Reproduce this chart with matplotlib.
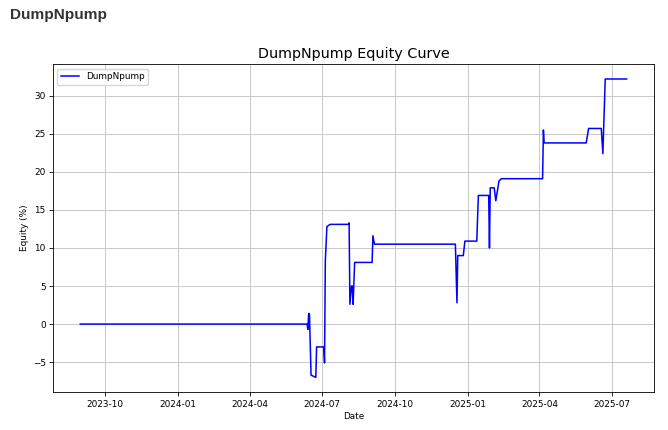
import pandas as pd
import matplotlib
matplotlib.use("Agg")
import matplotlib.pyplot as plt
import matplotlib.dates as mdates

# breakpoints of the equity curve (date, equity %)
dates = [
    "2023-08-31", "2024-06-12", "2024-06-13", "2024-06-14", "2024-06-15", "2024-06-17",
    "2024-06-23", "2024-06-24", "2024-07-03", "2024-07-04", "2024-07-05", "2024-07-07",
    "2024-07-11", "2024-08-03", "2024-08-04", "2024-08-05", "2024-08-07", "2024-08-08",
    "2024-08-09", "2024-08-11", "2024-09-02", "2024-09-03", "2024-09-05", "2024-12-16",
    "2024-12-18", "2024-12-19", "2024-12-26", "2024-12-28", "2025-01-12", "2025-01-14",
    "2025-01-27", "2025-01-28", "2025-01-29", "2025-02-03", "2025-02-05", "2025-02-09",
    "2025-02-12", "2025-04-05", "2025-04-06", "2025-04-07", "2025-05-30", "2025-06-02",
    "2025-06-18", "2025-06-20", "2025-06-23", "2025-07-20",
]
equity = [
    0.0, 0.0, -0.7, 1.4, 1.3, -6.7,
    -7.0, -3.0, -3.0, -5.1, 8.3, 12.8,
    13.1, 13.1, 13.3, 2.6, 5.0, 5.0,
    2.6, 8.1, 8.1, 11.6, 10.5, 10.5,
    2.8, 9.0, 9.0, 10.9, 10.9, 16.9,
    16.9, 10.0, 17.9, 17.9, 16.2, 18.8,
    19.1, 19.1, 25.5, 23.8, 23.8, 25.7,
    25.7, 22.4, 32.2, 32.2,
]

dates = pd.to_datetime(dates)

fig = plt.figure(figsize=(6.68, 4.30), dpi=100)
ax = fig.add_axes([0.0793, 0.0877, 0.8997, 0.7633])

ax.plot(dates, equity, color="blue", linewidth=1.1, label="DumpNpump")
ax.set_title("DumpNpump Equity Curve", fontsize=10.4, pad=4.4)
ax.set_xlabel("Date", fontsize=6.4, labelpad=2.6)
ax.set_ylabel("Equity (%)", fontsize=6.4, labelpad=3)
ax.tick_params(labelsize=6.4, length=2.6, width=0.6, pad=2.6)
ax.xaxis.set_major_locator(mdates.MonthLocator(bymonth=[1, 4, 7, 10]))
ax.xaxis.set_major_formatter(mdates.DateFormatter("%Y-%m"))
ax.grid(True, linewidth=0.6, color="#c0c0c0")
for s in ax.spines.values():
    s.set_linewidth(0.6)
ax.legend(loc="upper left", fontsize=6.4)

fig.text(0.015, 0.965, "DumpNpump", fontsize=11.1, fontweight="bold",
         family="Liberation Sans", color="#333333", va="center")

fig.savefig("out.png", dpi=100)
